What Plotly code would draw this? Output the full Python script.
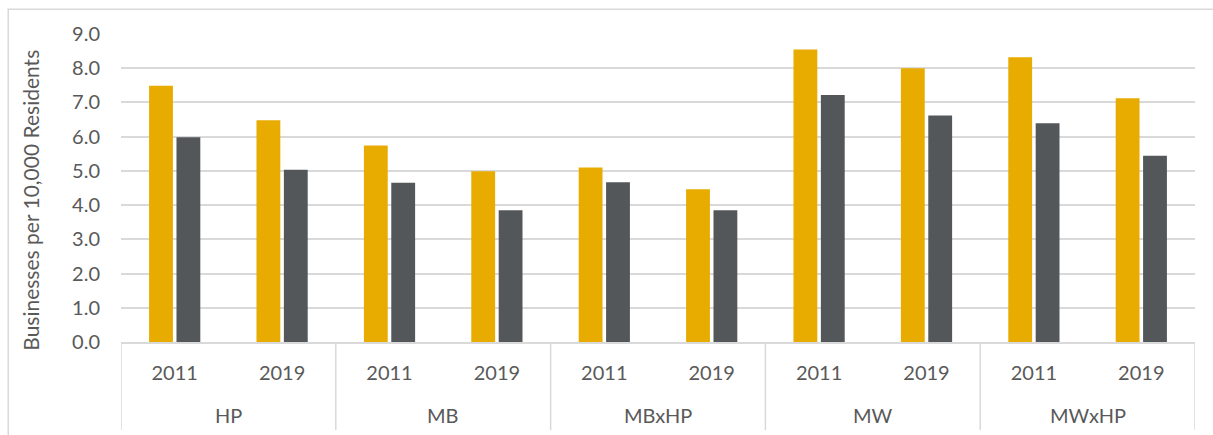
import plotly.graph_objects as go

# Category structure: area groups and survey years
groups = ["HP", "HP", "MB", "MB", "MBxHP", "MBxHP", "MW", "MW", "MWxHP", "MWxHP"]
years = ["2011", "2019", "2011", "2019", "2011", "2019", "2011", "2019", "2011", "2019"]

# Businesses per 10,000 residents for the two series
series_a = [7.49, 6.48, 5.74, 4.99, 5.10, 4.46, 8.55, 8.00, 8.32, 7.12]
series_b = [5.98, 5.03, 4.65, 3.85, 4.67, 3.85, 7.22, 6.62, 6.39, 5.44]

y_ticks = [0, 1, 2, 3, 4, 5, 6, 7, 8, 9]

GOLD = "#E8AB00"
SLATE = "#53575A"
TEXT = "#595959"
GRID = "#D9D9D9"
FONT = "Lato, 'Open Sans', sans-serif"

# One slot per (group, year) pair on a numeric category axis
idx = list(range(len(years)))

fig = go.Figure()
fig.add_trace(go.Bar(x=idx, y=series_a, marker_color=GOLD,
                     marker_line_width=0, showlegend=False))
fig.add_trace(go.Bar(x=idx, y=series_b, marker_color=SLATE,
                     marker_line_width=0, showlegend=False))

fig.update_layout(
    width=1213, height=435,
    margin=dict(l=121, r=18, t=34, b=93),
    paper_bgcolor="white", plot_bgcolor="white",
    barmode="group", bargap=0.49, bargroupgap=0.13,
    font=dict(family=FONT, color=TEXT, size=20),
)

fig.update_yaxes(
    range=[0, 9], tickvals=y_ticks, tickformat=".1f",
    showgrid=True, gridcolor=GRID, gridwidth=1.5,
    zeroline=False, showline=False,
    ticklabelstandoff=20,
    tickfont=dict(size=20, color=TEXT),
)

fig.update_xaxes(
    range=[-0.5, len(idx) - 0.5],
    tickvals=idx, ticktext=years,
    showgrid=False, zeroline=False,
    showline=True, linecolor=GRID, linewidth=1.5,
    ticks="", ticklabelstandoff=12,
    tickfont=dict(size=20, color=TEXT),
)

# Outer-level group labels and the divider lines between groups
spans = []
for i, g in enumerate(groups):
    if spans and spans[-1][0] == g:
        spans[-1][2] = i
    else:
        spans.append([g, i, i])

for g, start, end in spans:
    fig.add_annotation(x=(start + end) / 2, xref="x", y=0, yref="paper",
                       yanchor="middle", yshift=-73, text=g, showarrow=False,
                       font=dict(size=20, color=TEXT))

edges = [spans[0][1] - 0.5] + [end + 0.5 for _, _, end in spans]
for e in edges:
    fig.add_shape(type="line", xref="x", yref="paper",
                  x0=e, x1=e, y0=0, y1=-0.286,
                  line=dict(color=GRID, width=1.5))

# Vertical axis title
fig.add_annotation(x=-0.085, xref="paper", xanchor="center",
                   y=0.461, yref="paper", yanchor="middle",
                   text="Businesses per 10,000 Residents", textangle=-90,
                   showarrow=False, font=dict(size=21, color=TEXT))

# Light frame around the whole chart area
fig.add_shape(type="rect", xref="paper", yref="paper",
              x0=-0.105, x1=1.05, y0=-0.35, y1=1.08,
              line=dict(color=GRID, width=1.5), fillcolor="rgba(0,0,0,0)",
              layer="below")

fig.write_html("out.html")
